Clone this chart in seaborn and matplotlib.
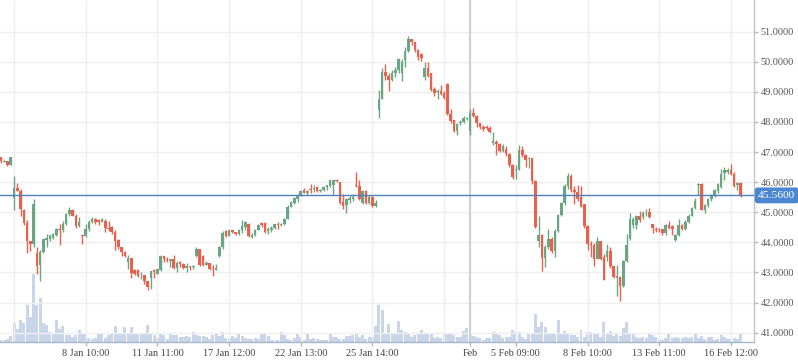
import numpy as np
import pandas as pd
import matplotlib.pyplot as plt
import matplotlib.transforms as mtransforms
import seaborn as sns

# hourly bars, 7 per session (09:00-15:00), 2 Jan 12:00 .. 16 Feb 15:00
opens = [46.83, 46.68, 46.69, 46.56, 45.46, 45.79, 45.70, 45.09, 44.64, 44.04,
         43.93, 43.64, 43.26, 43.67, 44.08, 44.12, 44.16, 44.25, 44.45, 44.40,
         44.62, 44.93, 45.06, 44.89, 44.53, 44.26, 44.21, 44.43, 44.67, 44.77,
         44.74, 44.69, 44.72, 44.49, 44.50, 44.33, 44.08, 43.84, 43.67, 43.35,
         43.48, 43.08, 43.07, 42.90, 42.91, 42.71, 42.82, 43.08, 42.94, 43.08,
         43.56, 43.45, 43.37, 43.45, 43.16, 43.35, 43.27, 43.16, 43.22, 43.19,
         43.54, 43.77, 43.54, 43.24, 43.32, 43.15, 43.08, 43.54, 43.83, 44.37,
         44.21, 44.40, 44.33, 44.27, 44.40, 44.51, 44.62, 44.19, 44.23, 44.42,
         44.64, 44.65, 44.38, 44.40, 44.48, 44.62, 44.59, 44.60, 44.79, 45.19,
         45.32, 45.45, 45.56, 45.75, 45.65, 45.78, 45.77, 45.83, 45.69, 45.75,
         45.83, 45.87, 45.89, 46.08, 46.02, 45.35, 45.23, 45.40, 45.43, 45.89,
         45.87, 45.32, 45.72, 45.32, 45.50, 45.21, 48.39, 48.76, 49.65, 49.53,
         49.39, 49.61, 49.72, 49.61, 50.06, 50.35, 50.75, 50.64, 50.39, 50.26,
         49.50, 49.78, 49.61, 49.08, 48.98, 49.02, 48.95, 49.25, 48.26, 48.06,
         47.71, 47.98, 48.00, 48.11, 47.71, 48.30, 48.19, 47.95, 47.84, 47.82,
         47.80, 47.31, 47.34, 47.28, 47.03, 47.11, 46.94, 46.56, 46.39, 46.39,
         47.06, 46.89, 46.76, 46.79, 46.03, 44.04, 44.26, 43.48, 43.84, 44.12,
         43.71, 44.38, 44.90, 45.31, 45.86, 46.20, 45.75, 45.68, 45.50, 45.26,
         44.53, 43.95, 43.90, 43.46, 44.03, 43.53, 43.51, 43.71, 43.20, 42.83,
         42.85, 42.55, 43.37, 44.12, 44.56, 44.56, 44.87, 44.84, 44.96, 45.00,
         44.60, 44.44, 44.43, 44.43, 44.31, 44.59, 44.53, 44.07, 44.23, 44.56,
         44.45, 44.67, 44.89, 45.14, 45.91, 45.95, 45.08, 45.25, 45.45, 45.58,
         45.70, 45.84, 46.31, 46.34, 46.41, 46.28, 45.89, 45.97]
highs = [46.83, 46.72, 46.69, 46.83, 46.19, 45.97, 45.78, 45.10, 44.73, 44.06,
         45.45, 43.84, 43.73, 44.12, 44.28, 44.26, 44.31, 44.48, 44.62, 44.70,
         44.97, 45.17, 45.10, 44.93, 44.84, 44.26, 44.62, 44.73, 44.84, 44.80,
         44.78, 44.80, 44.79, 44.72, 44.54, 44.40, 44.12, 43.86, 43.72, 43.59,
         43.48, 43.13, 43.13, 43.01, 42.91, 42.71, 43.04, 43.13, 43.13, 43.58,
         43.56, 43.52, 43.45, 43.59, 43.38, 43.38, 43.32, 43.30, 43.22, 43.26,
         43.83, 43.77, 43.59, 43.38, 43.32, 43.26, 43.27, 43.87, 44.37, 44.42,
         44.42, 44.42, 44.35, 44.45, 44.73, 44.71, 44.64, 44.31, 44.43, 44.62,
         44.68, 44.68, 44.51, 44.53, 44.62, 44.68, 44.65, 44.82, 45.23, 45.37,
         45.50, 45.61, 45.74, 45.80, 45.74, 45.94, 45.89, 45.86, 45.77, 45.86,
         45.91, 46.08, 46.08, 46.11, 46.02, 45.61, 45.45, 45.58, 45.61, 46.35,
         46.06, 45.75, 45.75, 45.56, 45.53, 45.42, 49.06, 49.78, 49.94, 49.61,
         49.72, 49.81, 50.14, 50.08, 50.48, 50.85, 50.75, 50.67, 50.41, 50.28,
         50.00, 50.00, 49.63, 49.15, 49.09, 49.22, 49.02, 49.28, 48.43, 48.08,
         47.95, 48.06, 48.19, 48.17, 48.43, 48.47, 48.23, 47.97, 47.89, 47.89,
         47.86, 47.66, 47.39, 47.31, 47.26, 47.19, 46.97, 46.61, 46.56, 47.25,
         47.19, 46.94, 46.83, 46.79, 46.06, 44.86, 44.29, 43.90, 44.43, 44.18,
         44.45, 44.93, 45.34, 45.95, 46.30, 46.28, 45.86, 45.89, 45.86, 45.28,
         44.56, 44.06, 43.98, 44.18, 44.06, 43.60, 43.93, 43.84, 43.23, 43.24,
         42.87, 43.40, 44.29, 44.98, 44.84, 44.90, 45.03, 45.03, 45.12, 45.15,
         44.62, 44.51, 44.49, 44.45, 44.62, 44.70, 44.56, 44.29, 44.76, 44.62,
         44.73, 44.93, 45.17, 45.48, 45.97, 45.97, 45.28, 45.48, 45.61, 45.76,
         45.97, 46.45, 46.50, 46.47, 46.59, 46.34, 46.00, 46.00]
lows = [46.63, 46.66, 46.52, 46.56, 45.06, 45.70, 44.89, 44.56, 43.64, 43.70,
        43.86, 42.95, 42.71, 43.64, 43.86, 44.06, 44.12, 44.22, 43.90, 44.35,
        44.58, 44.89, 44.86, 44.48, 44.51, 43.93, 44.19, 44.39, 44.64, 44.62,
        44.56, 44.66, 44.33, 44.39, 44.28, 43.75, 43.78, 43.56, 43.50, 43.12,
        42.82, 42.91, 42.85, 42.78, 42.61, 42.43, 42.46, 42.82, 42.94, 43.04,
        43.35, 43.35, 43.19, 43.13, 43.02, 43.19, 43.13, 43.01, 43.08, 43.13,
        43.51, 43.21, 43.21, 43.24, 43.08, 42.88, 43.08, 43.52, 43.79, 44.18,
        44.20, 44.31, 44.24, 44.24, 44.31, 44.40, 44.19, 44.16, 44.21, 44.40,
        44.52, 44.30, 44.27, 44.34, 44.45, 44.43, 44.53, 44.58, 44.77, 45.17,
        45.28, 45.34, 45.53, 45.64, 45.56, 45.65, 45.67, 45.67, 45.67, 45.72,
        45.75, 45.83, 45.56, 46.00, 45.28, 45.10, 44.98, 45.30, 45.39, 45.84,
        45.41, 45.28, 45.28, 45.28, 45.17, 45.17, 48.14, 48.76, 49.39, 49.02,
        49.36, 49.50, 49.63, 49.37, 49.83, 50.31, 50.55, 50.33, 50.06, 50.03,
        49.39, 49.50, 49.02, 48.87, 48.76, 48.89, 48.76, 48.23, 47.95, 47.67,
        47.56, 47.89, 47.97, 48.06, 47.56, 48.15, 47.84, 47.78, 47.71, 47.73,
        47.62, 47.24, 46.90, 47.00, 46.99, 46.86, 46.50, 46.09, 46.09, 46.39,
        46.83, 46.50, 46.47, 45.95, 44.49, 43.84, 43.05, 43.18, 43.79, 43.64,
        43.51, 44.35, 44.86, 45.23, 45.78, 45.67, 45.26, 45.37, 45.17, 44.49,
        43.76, 43.51, 43.23, 43.44, 43.40, 42.74, 43.38, 43.16, 42.81, 42.22,
        42.05, 42.51, 43.35, 44.09, 44.49, 44.43, 44.67, 44.76, 44.86, 44.82,
        44.32, 44.34, 44.35, 44.26, 44.26, 44.45, 44.26, 44.03, 44.21, 44.42,
        44.42, 44.65, 44.87, 45.12, 45.56, 45.06, 44.97, 45.17, 45.37, 45.50,
        45.65, 45.82, 46.06, 46.28, 46.25, 45.84, 45.75, 45.50]
closes = [46.70, 46.70, 46.56, 46.82, 45.79, 45.72, 45.12, 44.64, 44.04, 43.93,
          45.26, 43.23, 43.67, 44.10, 44.14, 44.23, 44.27, 44.44, 44.40, 44.62,
          44.93, 45.06, 44.89, 44.53, 44.69, 44.21, 44.43, 44.67, 44.78, 44.67,
          44.69, 44.76, 44.48, 44.43, 44.34, 44.06, 43.84, 43.67, 43.56, 43.48,
          42.99, 42.96, 42.89, 42.93, 42.72, 42.52, 43.04, 43.02, 43.10, 43.56,
          43.45, 43.41, 43.45, 43.16, 43.32, 43.27, 43.16, 43.22, 43.19, 43.21,
          43.79, 43.24, 43.24, 43.33, 43.11, 43.11, 43.16, 43.83, 44.31, 44.21,
          44.40, 44.36, 44.27, 44.42, 44.55, 44.68, 44.21, 44.24, 44.41, 44.59,
          44.58, 44.34, 44.43, 44.48, 44.60, 44.59, 44.62, 44.79, 45.19, 45.34,
          45.47, 45.56, 45.72, 45.65, 45.72, 45.75, 45.80, 45.69, 45.75, 45.83,
          45.89, 46.06, 46.08, 46.03, 45.32, 45.21, 45.43, 45.47, 45.50, 45.86,
          45.45, 45.69, 45.32, 45.50, 45.21, 45.31, 48.76, 49.67, 49.53, 49.39,
          49.61, 49.72, 50.08, 50.00, 50.35, 50.74, 50.64, 50.39, 50.17, 50.11,
          49.80, 49.53, 49.06, 48.95, 49.02, 48.92, 48.78, 48.26, 48.04, 47.71,
          47.93, 48.00, 48.14, 48.14, 48.30, 48.19, 47.95, 47.82, 47.76, 47.80,
          47.65, 47.36, 47.26, 47.04, 47.20, 46.94, 46.56, 46.17, 46.43, 47.06,
          46.89, 46.75, 46.79, 46.03, 44.51, 44.26, 43.48, 43.84, 44.10, 43.71,
          44.38, 44.90, 45.31, 45.86, 46.20, 45.75, 45.68, 45.45, 45.19, 44.53,
          43.95, 43.90, 43.46, 44.03, 43.46, 42.76, 43.70, 43.20, 42.85, 42.87,
          42.55, 43.37, 43.90, 44.76, 44.78, 44.87, 44.75, 44.97, 44.99, 44.84,
          44.48, 44.40, 44.40, 44.31, 44.59, 44.49, 44.44, 44.23, 44.56, 44.45,
          44.67, 44.89, 45.14, 45.37, 45.95, 45.08, 45.25, 45.45, 45.58, 45.73,
          45.95, 46.28, 46.39, 46.39, 46.28, 45.87, 45.97, 45.56]
# volume in thousands of shares
volume = [40, 40, 60, 120, 380, 260, 440, 380, 740, 500,
          1360, 740, 880, 380, 340, 200, 180, 440, 260, 320,
          140, 140, 100, 140, 240, 180, 180, 80, 60, 80,
          160, 160, 80, 140, 160, 320, 160, 160, 300, 160,
          300, 160, 160, 160, 180, 340, 160, 140, 80, 160,
          140, 60, 160, 140, 140, 100, 100, 120, 100, 200,
          140, 120, 120, 100, 60, 140, 180, 120, 200, 80,
          80, 120, 80, 160, 120, 80, 60, 60, 80, 60,
          160, 160, 120, 40, 20, 40, 200, 140, 60, 40,
          80, 160, 100, 40, 160, 60, 80, 60, 40, 40,
          40, 160, 100, 100, 60, 60, 120, 120, 140, 160,
          100, 140, 60, 100, 100, 320, 740, 640, 160, 360,
          180, 180, 420, 240, 200, 180, 100, 140, 180, 240,
          160, 160, 160, 80, 100, 80, 180, 160, 180, 140,
          100, 100, 220, 280, 140, 120, 100, 80, 40, 80,
          80, 200, 160, 140, 80, 100, 100, 240, 200, 200,
          100, 60, 180, 180, 560, 300, 400, 300, 180, 160,
          180, 440, 180, 220, 180, 140, 140, 100, 240, 100,
          200, 200, 180, 180, 100, 400, 180, 220, 120, 180,
          120, 280, 400, 180, 180, 100, 80, 100, 80, 180,
          140, 100, 60, 40, 80, 160, 80, 100, 80, 80,
          100, 80, 100, 160, 80, 120, 60, 100, 100, 40,
          60, 140, 100, 60, 60, 80, 60, 180]
last_price = 45.56

tick_pos = [26, 48, 70, 92, 114, 144, 158, 180, 202, 224]
tick_labels = ["8 Jan 10:00", "11 Jan 11:00", "17 Jan 12:00", "22 Jan 13:00",
               "25 Jan 14:00", "Feb", "5 Feb 09:00", "8 Feb 10:00",
               "13 Feb 11:00", "16 Feb 12:00"]
extra_grid = [4, 136]
month_line = 144

df = pd.DataFrame({"open": opens, "high": highs, "low": lows,
                   "close": closes, "volume": volume})
df["bar"] = np.arange(len(df))
up = df["close"] >= df["open"]
green, red = "#6ba583", "#e9604c"
df["color"] = np.where(up, green, red)

sns.set_theme(style="white")
plt.rcParams["font.family"] = ["Liberation Serif", "DejaVu Serif"]

fig = plt.figure(figsize=(7.98, 3.63), dpi=100)
ax = fig.add_axes([0, 0.057, 0.9449, 0.943])
ax2 = ax.twinx()

# volume underneath the candles
sns.barplot(data=df, x="bar", y="volume", native_scale=True, color="#c9d6ea",
            saturation=1, width=0.92, ax=ax2, linewidth=0)
ax2.set_ylim(0, df["volume"].max() / 0.2)
ax2.set_axis_off()
ax.set_zorder(ax2.get_zorder() + 1)
ax.patch.set_visible(False)

# candles
ax.vlines(df["bar"], df["low"], df["high"], colors=df["color"], lw=1.0, zorder=3)
body = np.maximum((df["close"] - df["open"]).abs(), 0.025)
ax.bar(df["bar"], body, bottom=np.minimum(df["open"], df["close"]),
       width=0.78, color=df["color"], linewidth=0, zorder=4)

ax.axhline(last_price, color="#4f80bd", lw=1.0, zorder=5)
ax.axvline(month_line, color="#c8c8c8", lw=1.2, zorder=1)

ax.set_xlim(-0.3, 231.1)
ax.set_ylim(40.68, 52.05)
ax.set_yticks(range(41, 52))
ax.yaxis.set_major_formatter(plt.FuncFormatter(lambda v, p: f"{v:.4f}"))
ax.yaxis.tick_right()
ax.set_xticks(tick_pos)
ax.set_xticklabels(tick_labels)
ax.set_xticks(extra_grid, minor=True)
ax.grid(True, which="both", color="#efefef", lw=1.0, zorder=0)
ax.tick_params(axis="y", right=True, length=3, width=1, pad=1.5, color="#b8b8b8",
               labelsize=7.4, labelcolor="#555555")
ax.tick_params(axis="x", which="major", bottom=True, length=3, width=1, pad=2,
               color="#b8b8b8", labelsize=7.4, labelcolor="#444444")
ax.tick_params(axis="x", which="minor", bottom=False)
ax2.set_xlim(ax.get_xlim())

for side in ["top", "left"]:
    ax.spines[side].set_visible(False)
ax.spines["right"].set_color("#c4c4c4")
ax.spines["bottom"].set_color("#a8b6c8")
ax.spines["right"].set_linewidth(1)
ax.spines["bottom"].set_linewidth(1)

trans = mtransforms.blended_transform_factory(ax.transAxes, ax.transData)
ax.text(1.0055, last_price, f"{last_price:.4f}", transform=trans, ha="left",
        va="center", color="white", fontsize=8.2, zorder=6, clip_on=False,
        bbox=dict(boxstyle="round,pad=0.3,rounding_size=0.25", fc="#4a87d0", ec="none"))

fig.savefig("out.png", dpi=100)
